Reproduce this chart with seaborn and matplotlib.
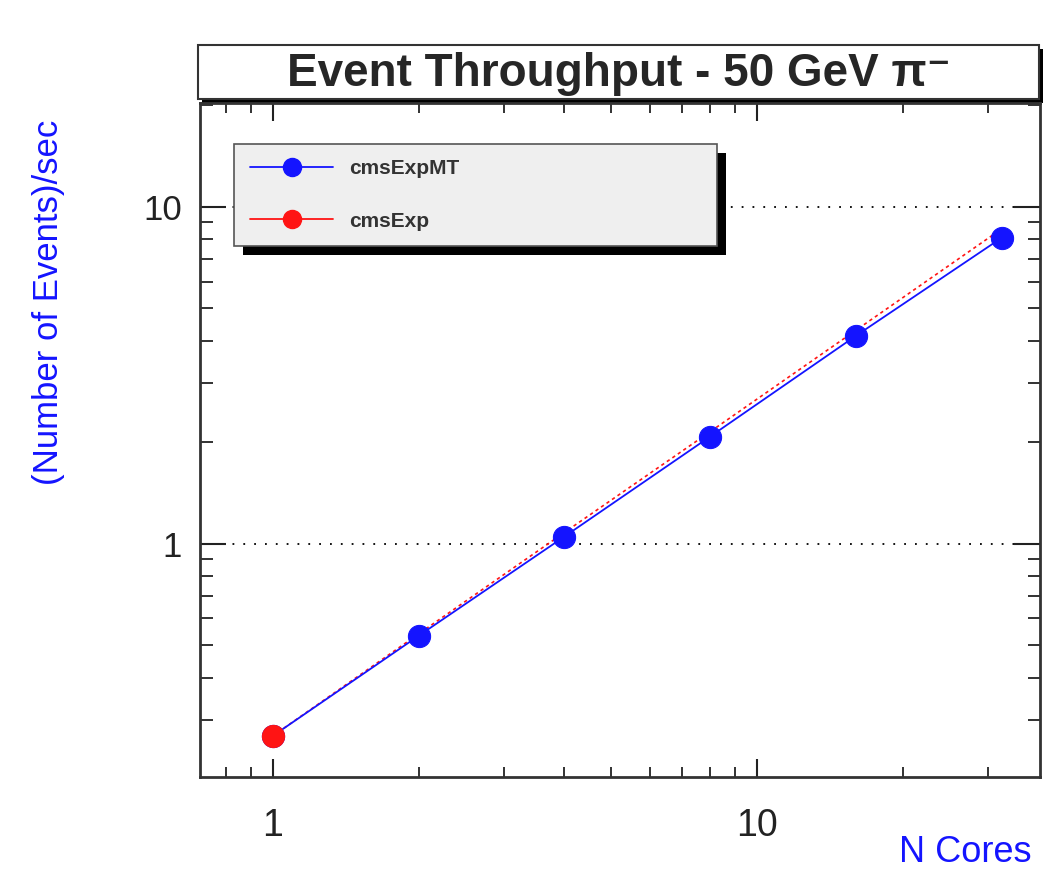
import numpy as np
import pandas as pd
import matplotlib
matplotlib.use("Agg")
import matplotlib.pyplot as plt
import matplotlib.ticker as mticker
from matplotlib.patches import Rectangle
from matplotlib.lines import Line2D
import seaborn as sns

# values
n_cores = [1, 2, 4, 8, 16, 32]
rate_mt = [0.269, 0.533, 1.05, 2.08, 4.14, 8.09]      # cmsExpMT
exp_cores = [1]
rate_exp = [0.269]                                      # cmsExp, single point
ideal_cores = [1, 2, 4, 8, 16, 32]
rate_ideal = [0.269, 0.54, 1.08, 2.15, 4.3, 8.6]      # red dotted scaling line

BLUE = "#1414ff"
RED = "#ff1414"

sns.set_style("ticks")
plt.rcParams['font.family'] = ['Liberation Sans', 'DejaVu Sans']

df_mt = pd.DataFrame({"cores": n_cores, "rate": rate_mt})
df_exp = pd.DataFrame({"cores": exp_cores, "rate": rate_exp})
df_ideal = pd.DataFrame({"cores": ideal_cores, "rate": rate_ideal})

fig = plt.figure(figsize=(10.51, 8.82), dpi=100)
ax = fig.add_axes([0.1903, 0.119, 0.7992, 0.764])

sns.lineplot(data=df_ideal, x="cores", y="rate", ax=ax, color=RED, lw=1.2,
             linestyle=(0, (2, 2)), zorder=3)
sns.lineplot(data=df_mt, x="cores", y="rate", ax=ax, color=BLUE, lw=1.3,
             marker="o", markersize=16, markeredgecolor=BLUE, zorder=4)
sns.lineplot(data=df_exp, x="cores", y="rate", ax=ax, color=RED, lw=1.3,
             marker="o", markersize=16, markeredgecolor=RED, zorder=5)

ax.set_xscale("log")
ax.set_yscale("log")
ax.set_xlim(0.707, 38.4)
ax.set_ylim(0.203, 20.3)

ax.xaxis.set_major_formatter(mticker.FuncFormatter(lambda v, p: f"{v:g}"))
ax.yaxis.set_major_formatter(mticker.FuncFormatter(lambda v, p: f"{v:g}"))
ax.xaxis.set_minor_formatter(mticker.NullFormatter())
ax.yaxis.set_minor_formatter(mticker.NullFormatter())

ax.tick_params(which="both", direction="in", top=True, right=True, colors="#222222")
ax.tick_params(axis="x", which="major", length=13, width=1.5, labelsize=27, pad=22)
ax.tick_params(axis="x", which="minor", length=7, width=1.3)
ax.tick_params(axis="y", which="major", length=19, width=1.5, labelsize=25, pad=13)
ax.tick_params(axis="y", which="minor", length=9, width=1.3)
for s in ax.spines.values():
    s.set_linewidth(2)
    s.set_color("#333333")

ax.yaxis.grid(True, which="major", color="black", linestyle=(0, (1, 5)), lw=1.3)
ax.xaxis.grid(False)

ax.set_xlabel("")
ax.set_ylabel("")
fig.text(0.046, 0.657, "(Number of Events)/sec", rotation=90, color=BLUE,
         fontsize=25, ha="center", va="center")
fig.text(0.981, 0.034, "N Cores", color=BLUE, fontsize=26, ha="right", va="center")

# legend with a hard shadow
handles = [Line2D([], [], color=BLUE, lw=1.3, marker="o", markersize=13),
           Line2D([], [], color=RED, lw=1.3, marker="o", markersize=13)]
leg = ax.legend(handles, ["cmsExpMT", "cmsExp"], loc="upper left",
                bbox_to_anchor=(0.0405, 0.788, 0.575, 0.152), mode="expand",
                borderaxespad=0, frameon=True, fancybox=False, framealpha=1,
                edgecolor="#555555", facecolor="#efefef",
                prop={"weight": "bold", "size": 15},
                labelspacing=1.59, borderpad=0.76, handlelength=4.0, handletextpad=0.77,
                labelcolor="#333333")
leg.get_frame().set_linewidth(1.2)
leg.set_zorder(10)

fig.canvas.draw()
bb = leg.get_window_extent().transformed(fig.transFigure.inverted())
dx, dy = 9 / fig.bbox.width, 9 / fig.bbox.height
fig.patches.append(Rectangle((bb.x0 + dx, bb.y0 - dy), bb.width, bb.height,
                             transform=fig.transFigure, facecolor="black",
                             edgecolor="none", zorder=1))
ax.set_zorder(2)
ax.patch.set_alpha(0)

# title box with shadow
tx0, ty0, tw, th = 0.188, 0.888, 0.801, 0.061
fig.patches.append(Rectangle((tx0 + 4 / fig.bbox.width, ty0 - 4 / fig.bbox.height), tw, th,
                             transform=fig.transFigure, facecolor="black",
                             edgecolor="none", zorder=1))
fig.patches.append(Rectangle((tx0, ty0), tw, th, transform=fig.transFigure,
                             facecolor="white", edgecolor="#333333", lw=1.5, zorder=2))
fig.text(tx0 + tw / 2, ty0 + th / 2 - 0.002, "Event Throughput - 50 GeV π\u207b",
         fontsize=33, fontweight="bold", ha="center", va="center", zorder=3)

fig.savefig("out.png", dpi=100)
